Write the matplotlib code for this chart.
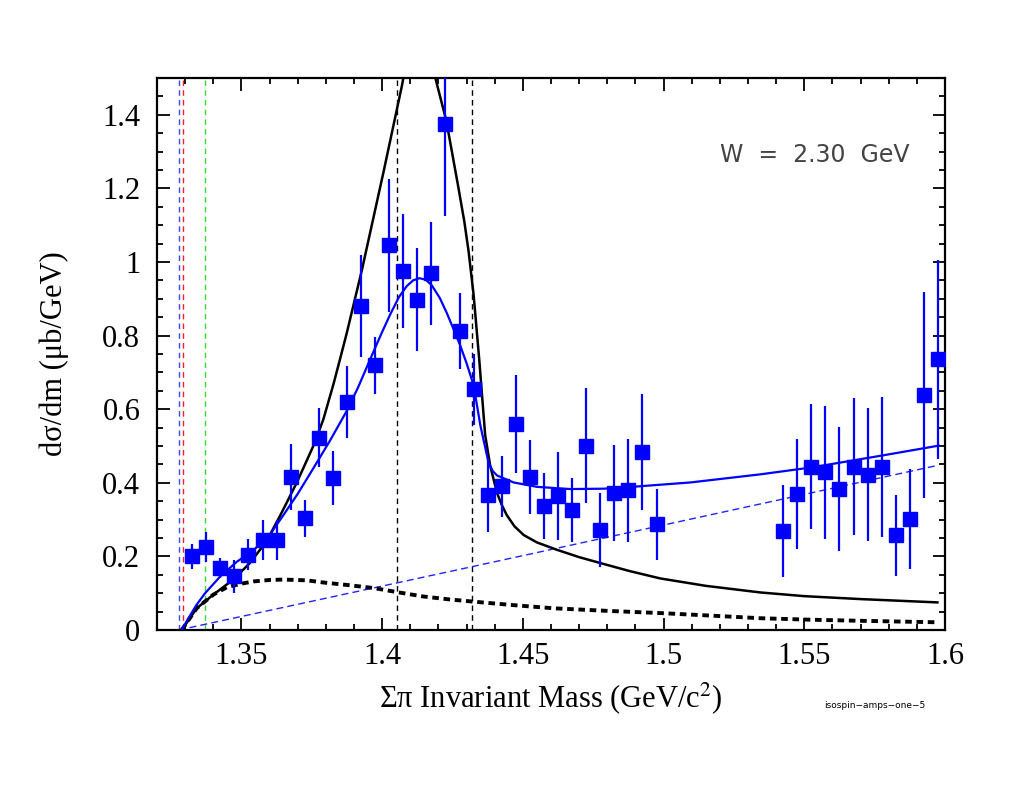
import matplotlib
matplotlib.use("Agg")
import matplotlib.pyplot as plt
from matplotlib.ticker import MultipleLocator

# ---------------- data ----------------
mass = [1.3325, 1.3375, 1.3425, 1.3475, 1.3525, 1.3575, 1.3625, 1.3675, 1.3725, 1.3775,
        1.3825, 1.3875, 1.3925, 1.3975, 1.4025, 1.4075, 1.4125, 1.4175, 1.4225, 1.4275,
        1.4325, 1.4375, 1.4425, 1.4475, 1.4525, 1.4575, 1.4625, 1.4675, 1.4725, 1.4775,
        1.4825, 1.4875, 1.4925, 1.4975,
        1.5425, 1.5475, 1.5525, 1.5575, 1.5625, 1.5675, 1.5725, 1.5775, 1.5825, 1.5875,
        1.5925, 1.5975]
xsec = [0.200, 0.226, 0.169, 0.146, 0.205, 0.244, 0.244, 0.416, 0.303, 0.523,
        0.413, 0.619, 0.880, 0.719, 1.045, 0.975, 0.897, 0.970, 1.375, 0.813,
        0.654, 0.366, 0.390, 0.559, 0.415, 0.337, 0.364, 0.326, 0.501, 0.271,
        0.373, 0.380, 0.483, 0.287,
        0.269, 0.369, 0.444, 0.428, 0.384, 0.444, 0.422, 0.444, 0.258, 0.301,
        0.639, 0.736]
xsec_err = [0.035, 0.041, 0.028, 0.045, 0.042, 0.055, 0.055, 0.090, 0.050, 0.080,
            0.073, 0.098, 0.138, 0.078, 0.180, 0.155, 0.140, 0.140, 0.250, 0.104,
            0.097, 0.100, 0.083, 0.133, 0.100, 0.090, 0.120, 0.088, 0.156, 0.100,
            0.130, 0.140, 0.158, 0.096,
            0.124, 0.149, 0.170, 0.180, 0.168, 0.187, 0.180, 0.190, 0.110, 0.136,
            0.280, 0.270]

# black solid curve
black_x = [1.3288, 1.3341, 1.3400, 1.3471, 1.3530, 1.3589, 1.3637, 1.3697, 1.3756, 1.3791,
           1.3827, 1.3850, 1.3874, 1.3928, 1.4005, 1.4070, 1.4100, 1.4130, 1.4160, 1.4188,
           1.4228, 1.4271, 1.4292, 1.4307, 1.4325, 1.4345, 1.4366, 1.4384, 1.4408, 1.4425,
           1.4443, 1.4470, 1.4503, 1.4550, 1.4621, 1.4700, 1.4775, 1.4880, 1.4989, 1.5150,
           1.5344, 1.5500, 1.5700, 1.5973]
black_y = [0.000, 0.059, 0.096, 0.137, 0.182, 0.241, 0.310, 0.401, 0.501, 0.572,
           0.668, 0.735, 0.806, 0.978, 1.245, 1.478, 1.600, 1.680, 1.640, 1.503,
           1.384, 1.202, 1.110, 1.030, 0.911, 0.735, 0.530, 0.446, 0.373, 0.340,
           0.312, 0.282, 0.258, 0.238, 0.218, 0.198, 0.182, 0.160, 0.140, 0.120,
           0.102, 0.092, 0.084, 0.075]

# blue solid curve (total)
blue_x = [1.3288, 1.3310, 1.3340, 1.3371, 1.3424, 1.3483, 1.3543, 1.3602, 1.3649, 1.3700,
          1.3756, 1.3815, 1.3874, 1.3915, 1.3957, 1.4000, 1.4029, 1.4060, 1.4088, 1.4110,
          1.4132, 1.4155, 1.4177, 1.4205, 1.4230, 1.4255, 1.4277, 1.4300, 1.4325, 1.4349,
          1.4378, 1.4393, 1.4408, 1.4467, 1.4550, 1.4669, 1.4787, 1.4906, 1.5096, 1.5344,
          1.5528, 1.5783, 1.5978]
blue_y = [0.000, 0.030, 0.068, 0.100, 0.145, 0.185, 0.217, 0.260, 0.312, 0.370,
          0.440, 0.515, 0.595, 0.660, 0.735, 0.810, 0.858, 0.905, 0.935, 0.950,
          0.956, 0.952, 0.936, 0.902, 0.861, 0.815, 0.774, 0.725, 0.665, 0.556,
          0.455, 0.432, 0.420, 0.401, 0.389, 0.383, 0.384, 0.390, 0.401, 0.423,
          0.442, 0.475, 0.501]

# blue dashed background
bg_x = [1.3277, 1.4313, 1.5978]
bg_y = [0.000, 0.171, 0.448]

# black thick dashed curve
dot_x = [1.3288, 1.3341, 1.3400, 1.3448, 1.3500, 1.3543, 1.3600, 1.3650, 1.3732, 1.3792,
         1.3880, 1.3970, 1.4060, 1.4147, 1.4240, 1.4325, 1.4460, 1.4609, 1.4800, 1.4989,
         1.5170, 1.5344, 1.5520, 1.5700, 1.5973]
dot_y = [0.000, 0.059, 0.096, 0.116, 0.126, 0.132, 0.136, 0.137, 0.135, 0.129,
         0.122, 0.114, 0.102, 0.091, 0.083, 0.077, 0.068, 0.059, 0.052, 0.046,
         0.039, 0.032, 0.028, 0.025, 0.021]

# vertical threshold / mass lines
vline_x = [1.3277, 1.3291, 1.3371, 1.4052, 1.4321]
vline_colors = ["#4444ff", "#ff2222", "#33dd33", "black", "black"]

xticks = [1.35, 1.40, 1.45, 1.50, 1.55, 1.60]
xtick_labels = ["1.35", "1.4", "1.45", "1.5", "1.55", "1.6"]
yticks = [0, 0.2, 0.4, 0.6, 0.8, 1.0, 1.2, 1.4]
ytick_labels = ["0", "0.2", "0.4", "0.6", "0.8", "1", "1.2", "1.4"]

# ---------------- figure ----------------
plt.rcParams["font.family"] = ["Liberation Serif", "DejaVu Serif"]
plt.rcParams["mathtext.fontset"] = "stix"

fig = plt.figure(figsize=(10.24, 7.88), dpi=100)
ax = fig.add_axes([157 / 1024, 1 - 630 / 788, (945 - 157) / 1024, (630 - 78) / 788])

for xv, c in zip(vline_x, vline_colors):
    ax.axvline(xv, color=c, lw=1.0, ls=(0, (4, 3)), zorder=1)

ax.plot(bg_x, bg_y, color="#2222ff", lw=1.0, ls=(0, (5, 3)), zorder=2)
ax.plot(dot_x, dot_y, color="black", lw=2.8, ls=(0, (1.7, 1.2)), zorder=2)
ax.plot(black_x, black_y, color="black", lw=1.8, zorder=3)
ax.plot(blue_x, blue_y, color="#0000ff", lw=1.6, zorder=3)

ax.errorbar(mass, xsec, yerr=xsec_err, fmt="s", color="#0000ff", ms=9.5,
            mec="#0000ff", elinewidth=1.6, capsize=0, zorder=4)

ax.set_xlim(1.32, 1.60)
ax.set_ylim(0, 1.5)
ax.set_xticks(xticks)
ax.set_xticklabels(xtick_labels)
ax.set_yticks(yticks)
ax.set_yticklabels(ytick_labels)
ax.xaxis.set_minor_locator(MultipleLocator(0.01))
ax.yaxis.set_minor_locator(MultipleLocator(0.05))
ax.tick_params(which="both", direction="in", top=True, right=True, width=1.3)
ax.tick_params(which="major", length=9, labelsize=22)
ax.tick_params(axis="x", which="major", pad=9)
ax.tick_params(axis="y", which="major", pad=12)
ax.tick_params(which="minor", length=4.5)
for s in ax.spines.values():
    s.set_linewidth(1.6)

ax.set_xlabel("\u03a3\u03c0 Invariant Mass (GeV/c$^{2}$)", fontsize=22, labelpad=6)
ax.set_ylabel("d\u03c3/dm (\u03bcb/GeV)", fontsize=22, labelpad=24)

ax.text(0.835, 0.86, "W  =  2.30  GeV", transform=ax.transAxes, ha="center", va="center",
        fontsize=17, color="#444444", family="DejaVu Sans")
fig.text(875 / 1024, 1 - 706 / 788, "isospin\u2212amps\u2212one\u22125", ha="center", va="center",
         fontsize=6.5, family="DejaVu Sans", color="black")

fig.savefig("out.png", dpi=100)
